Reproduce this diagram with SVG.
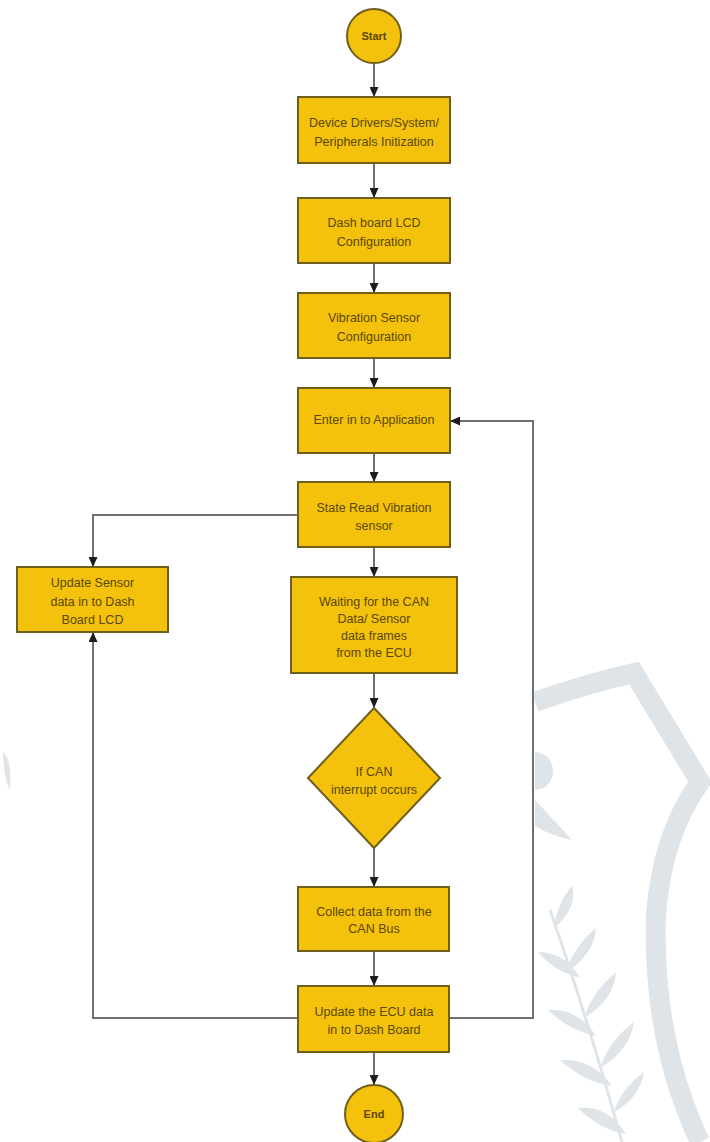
<svg xmlns="http://www.w3.org/2000/svg" width="710" height="1142" viewBox="0 0 710 1142">
<style>
.box{fill:#f4c20d;stroke:#6f5f1c;stroke-width:2}
.lbl{font-family:"Liberation Sans",Arial,sans-serif;font-size:12.5px;fill:#5a4700;text-anchor:middle}
.sm{font-size:11px;font-weight:bold}
.con{fill:none;stroke:#707070;stroke-width:2}
.wm{fill:none;stroke:#dfe4e8;stroke-linecap:butt;stroke-linejoin:miter}
.wmf{fill:#dfe4e8}
</style>
<defs>
<marker id="ah" markerUnits="userSpaceOnUse" markerWidth="10" markerHeight="9" refX="10" refY="4.5" orient="auto">
<path d="M0,0 L10,4.5 L0,9 z" fill="#1c1c1c"/>
</marker>
</defs>
<rect width="710" height="1142" fill="#ffffff"/>
<g id="watermark">
<path class="wm" stroke-width="20" d="M535,702 Q585,684 634,673 L700,782 Q662,835 656,915 Q652,1040 700,1142"/>
<path class="wmf" d="M535,752 A18,19 0 0 1 535,790 z"/>
<path class="wmf" d="M535,800 Q552,818 572,840 Q552,836 535,826 z"/>
<path class="wm" stroke-width="3" d="M550,910 Q585,1010 622,1142"/>
<path class="wmf" d="M554,928 Q578,908 572,885 Q556,906 554,928 z"/>
<path class="wmf" d="M538,952 Q555,972 580,978 Q565,952 538,952 z"/>
<path class="wmf" d="M566,972 Q594,955 596,928 Q574,946 566,972 z"/>
<path class="wmf" d="M548,1010 Q568,1030 596,1036 Q578,1008 548,1010 z"/>
<path class="wmf" d="M584,1018 Q614,1000 616,972 Q592,992 584,1018 z"/>
<path class="wmf" d="M560,1060 Q584,1082 612,1086 Q592,1058 560,1060 z"/>
<path class="wmf" d="M600,1068 Q630,1050 634,1022 Q608,1042 600,1068 z"/>
<path class="wmf" d="M578,1108 Q600,1130 626,1134 Q606,1104 578,1108 z"/>
<path class="wmf" d="M614,1112 Q640,1098 644,1072 Q620,1090 614,1112 z"/>
<path class="wmf" d="M3,752 Q12,760 10,790 Q4,780 3,752 z"/>
</g>
<g id="connectors">
<line class="con" x1="374" y1="63" x2="374" y2="97" marker-end="url(#ah)"/>
<line class="con" x1="374" y1="163" x2="374" y2="198" marker-end="url(#ah)"/>
<line class="con" x1="374" y1="263" x2="374" y2="293" marker-end="url(#ah)"/>
<line class="con" x1="374" y1="358" x2="374" y2="388" marker-end="url(#ah)"/>
<line class="con" x1="374" y1="453" x2="374" y2="482" marker-end="url(#ah)"/>
<line class="con" x1="374" y1="547" x2="374" y2="577" marker-end="url(#ah)"/>
<line class="con" x1="374" y1="673" x2="374" y2="708" marker-end="url(#ah)"/>
<line class="con" x1="374" y1="848" x2="374" y2="887" marker-end="url(#ah)"/>
<line class="con" x1="374" y1="951" x2="374" y2="986" marker-end="url(#ah)"/>
<line class="con" x1="374" y1="1052" x2="374" y2="1085" marker-end="url(#ah)"/>
<polyline class="con" points="298,515 93,515 93,567" marker-end="url(#ah)"/>
<polyline class="con" points="298,1018 93,1018 93,632" marker-end="url(#ah)"/>
<polyline class="con" points="449,1018 533,1018 533,421 450,421" marker-end="url(#ah)"/>
</g>
<g id="start">
<circle class="box" cx="374" cy="36" r="27"/>
<text class="lbl sm" x="374" y="40">Start</text>
</g>
<g id="init">
<rect class="box" x="298" y="97" width="152" height="66"/>
<text class="lbl" x="374" y="127">Device Drivers/System/</text>
<text class="lbl" x="374" y="146">Peripherals Initization</text>
</g>
<g id="lcd-config">
<rect class="box" x="298" y="198" width="152" height="65"/>
<text class="lbl" x="374" y="227">Dash board LCD</text>
<text class="lbl" x="374" y="246">Configuration</text>
</g>
<g id="sensor-config">
<rect class="box" x="298" y="293" width="152" height="65"/>
<text class="lbl" x="374" y="322">Vibration Sensor</text>
<text class="lbl" x="374" y="341">Configuration</text>
</g>
<g id="enter-app">
<rect class="box" x="298" y="388" width="152" height="65"/>
<text class="lbl" x="374" y="424">Enter in to Application</text>
</g>
<g id="read-sensor">
<rect class="box" x="298" y="482" width="152" height="65"/>
<text class="lbl" x="374" y="512">State Read Vibration</text>
<text class="lbl" x="374" y="530">sensor</text>
</g>
<g id="update-sensor">
<rect class="box" x="17" y="567" width="151" height="65"/>
<text class="lbl" x="92.5" y="587">Update Sensor</text>
<text class="lbl" x="92.5" y="606">data in to Dash</text>
<text class="lbl" x="92.5" y="624">Board LCD</text>
</g>
<g id="waiting">
<rect class="box" x="291" y="577" width="166" height="96"/>
<text class="lbl" x="374" y="606">Waiting for the CAN</text>
<text class="lbl" x="374" y="623">Data/ Sensor</text>
<text class="lbl" x="374" y="640">data frames</text>
<text class="lbl" x="374" y="657">from the ECU</text>
</g>
<g id="decision">
<polygon class="box" points="374,708 440,778 374,848 308,778"/>
<text class="lbl" x="374" y="776">If CAN</text>
<text class="lbl" x="374" y="794">interrupt occurs</text>
</g>
<g id="collect">
<rect class="box" x="298" y="887" width="151" height="64"/>
<text class="lbl" x="374" y="916">Collect data from the</text>
<text class="lbl" x="374" y="933">CAN Bus</text>
</g>
<g id="update-ecu">
<rect class="box" x="298" y="986" width="151" height="66"/>
<text class="lbl" x="374" y="1016">Update the ECU data</text>
<text class="lbl" x="374" y="1034">in to Dash Board</text>
</g>
<g id="end">
<circle class="box" cx="374" cy="1114" r="29"/>
<text class="lbl sm" x="374" y="1118">End</text>
</g>
</svg>
